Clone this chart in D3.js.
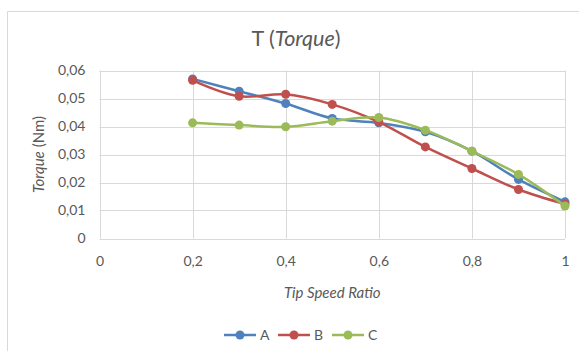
<html lang="en">
<head>
<style>
body { margin: 0; background: #fff; }
text { font-family: Lato, "Open Sans", sans-serif; fill: #595959; }
</style>
</head>
<body>
</body>
<script type='text/javascript' src='https://d3js.org/d3.v7.min.js'></script>
<script>
var width = 579, height = 351;

// data
const tsr = [0.2, 0.3, 0.4, 0.5, 0.6, 0.7, 0.8, 0.9, 1.0];
const seriesA = [0.0570, 0.0526, 0.0482, 0.0429, 0.0413, 0.0381, 0.0312, 0.0211, 0.0131];
const seriesB = [0.0565, 0.0508, 0.0515, 0.0479, 0.0416, 0.0327, 0.0250, 0.0175, 0.0123];
const seriesC = [0.0413, 0.0405, 0.0399, 0.0419, 0.0432, 0.0387, 0.0312, 0.0229, 0.0116];
const seriesNames = ['A', 'B', 'C'];
const xTicks = [0, 0.2, 0.4, 0.6, 0.8, 1];
const yTicks = [0, 0.01, 0.02, 0.03, 0.04, 0.05, 0.06];

const colors = ['#4F81BD', '#C0504D', '#9BBB59'];
const allSeries = [seriesA, seriesB, seriesC];

var svg = d3.select('body').append('svg').attr('width', width).attr('height', height);

// chart frame
svg.append('path')
  .attr('d', 'M7.5,' + height + 'V11.5H' + width)
  .attr('fill', 'none').attr('stroke', '#d9d9d9').attr('stroke-width', 1);

var x = d3.scaleLinear().domain([0, 1]).range([99.5, 565]);
var y = d3.scaleLinear().domain([0, 0.06]).range([238.5, 70.5]);

var fmt = function(d) { return d === 0 ? '0' : d3.format('.2f')(d).replace('.', ','); };
var fmtX = function(d) { return (d === 0 || d === 1) ? String(d) : d3.format('.1f')(d).replace('.', ','); };

// gridlines
svg.append('g').selectAll('line').data(yTicks).join('line')
  .attr('x1', x(0)).attr('x2', x(1))
  .attr('y1', d => Math.round(y(d)) + 0.5).attr('y2', d => Math.round(y(d)) + 0.5)
  .attr('stroke', '#d9d9d9');
svg.append('g').selectAll('line').data(xTicks).join('line')
  .attr('x1', d => Math.round(x(d)) + 0.5).attr('x2', d => Math.round(x(d)) + 0.5)
  .attr('y1', y(0)).attr('y2', y(0.06))
  .attr('stroke', '#d9d9d9');

// axes (labels only, Excel style)
var yAxis = svg.append('g').attr('transform', 'translate(' + x(0) + ',0)')
  .call(d3.axisLeft(y).tickValues(yTicks).tickFormat(fmt).tickSize(0).tickPadding(14));
yAxis.select('.domain').remove();
yAxis.selectAll('text').style('font-size', '14px').style('font-family', 'Lato');

var xAxis = svg.append('g').attr('transform', 'translate(0,' + y(0) + ')')
  .call(d3.axisBottom(x).tickValues(xTicks).tickFormat(fmtX).tickSize(0).tickPadding(18));
xAxis.select('.domain').remove();
xAxis.selectAll('text').style('font-size', '14px').style('font-family', 'Lato');

// series
var line = d3.line()
  .x((d, i) => x(tsr[i]))
  .y(d => y(d))
  .curve(d3.curveCatmullRom.alpha(0.5));

allSeries.forEach(function(vals, k) {
  svg.append('path').datum(vals)
    .attr('d', line)
    .attr('fill', 'none')
    .attr('stroke', colors[k])
    .attr('stroke-width', 2.5)
    .attr('stroke-linejoin', 'round');
  svg.append('g').selectAll('circle').data(vals).join('circle')
    .attr('cx', (d, i) => x(tsr[i]))
    .attr('cy', d => y(d))
    .attr('r', 4.5)
    .attr('fill', colors[k]);
});

// title
var title = svg.append('text').attr('x', 296).attr('y', 46)
  .attr('text-anchor', 'middle').style('font-size', '21.5px');
title.append('tspan').text('T (');
title.append('tspan').style('font-style', 'italic').text('Torque');
title.append('tspan').text(')');

// axis titles
svg.append('text').attr('x', (x(0) + x(1)) / 2).attr('y', 298)
  .attr('text-anchor', 'middle').style('font-size', '15px').style('font-style', 'italic')
  .text('Tip Speed Ratio');

var yt = svg.append('text')
  .attr('transform', 'translate(44,' + ((y(0) + y(0.06)) / 2) + ') rotate(-90)')
  .attr('text-anchor', 'middle').style('font-size', '15px');
yt.append('tspan').style('font-style', 'italic').text('Torque');
yt.append('tspan').text(' (Nm)');

// legend
var legendX = [224, 278, 332];
seriesNames.forEach(function(name, k) {
  var g = svg.append('g').attr('transform', 'translate(' + legendX[k] + ',335)');
  g.append('line').attr('x1', 0).attr('x2', 32).attr('y1', 0).attr('y2', 0)
    .attr('stroke', colors[k]).attr('stroke-width', 2.5);
  g.append('circle').attr('cx', 16).attr('cy', 0).attr('r', 4.5).attr('fill', colors[k]);
  g.append('text').attr('x', 36).attr('y', 5).style('font-size', '14px').text(name);
});
</script>
</html>
